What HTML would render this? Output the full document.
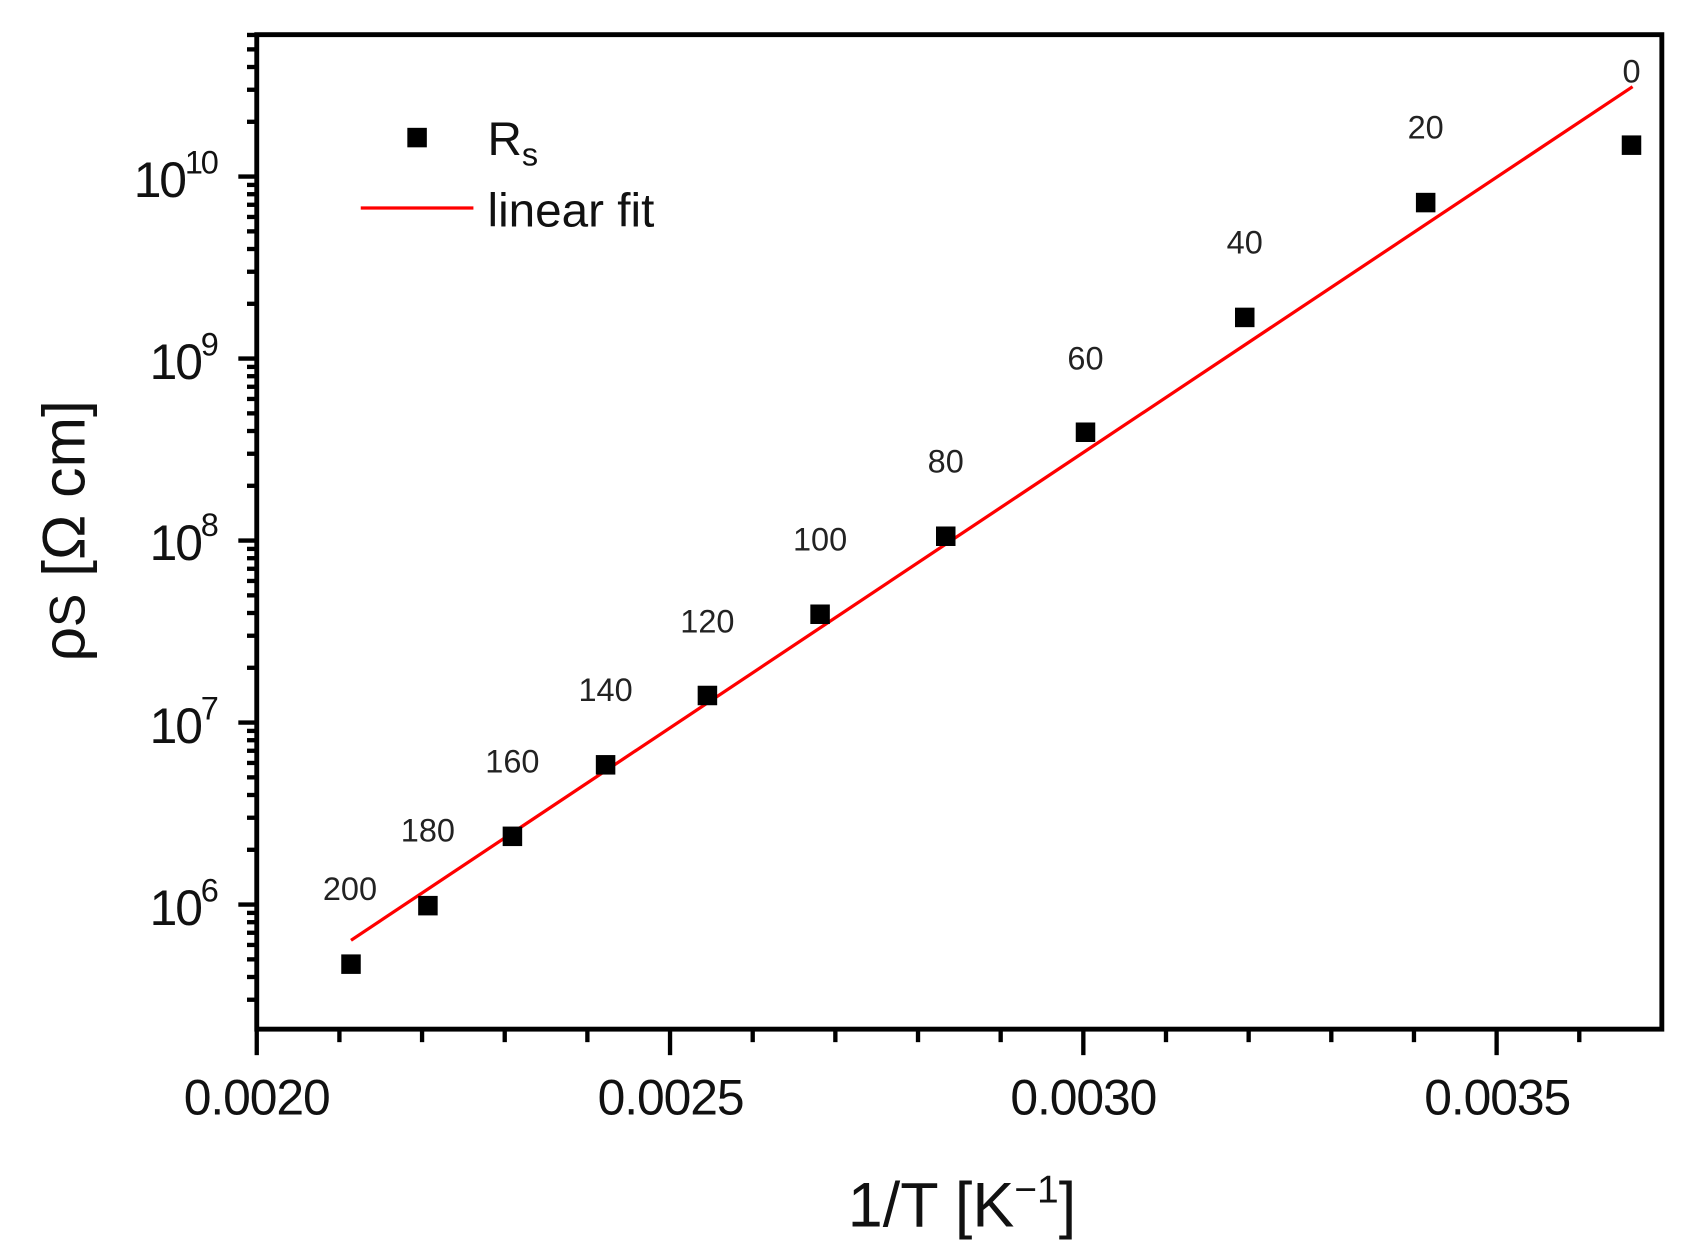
<!DOCTYPE html>
<html><head><meta charset="utf-8"><style>html,body{margin:0;padding:0;background:#fff}svg{display:block}</style></head>
<body>
<svg width="1690" height="1256" viewBox="0 0 1560 1159.4" preserveAspectRatio="none" xmlns="http://www.w3.org/2000/svg" font-family="Liberation Sans, Arial, sans-serif">
<rect width="1560" height="1160" fill="#fff"/>
<g id="yticks" stroke="#000" stroke-width="4"></g>
<g id="xticks" stroke="#000" stroke-width="4"></g>
<rect x="237" y="32" width="1297" height="918" fill="none" stroke="#000" stroke-width="4.5"/>
<g font-size="46" text-anchor="end" fill="#111" letter-spacing="-2">
<text x="200" y="182">10<tspan dy="-22" font-size="30">10</tspan></text>
<text x="200" y="350">10<tspan dy="-22" font-size="30">9</tspan></text>
<text x="200" y="517">10<tspan dy="-22" font-size="30">8</tspan></text>
<text x="200" y="686">10<tspan dy="-22" font-size="30">7</tspan></text>
<text x="200" y="854">10<tspan dy="-22" font-size="30">6</tspan></text>
</g>
<g font-size="46" text-anchor="middle" fill="#111" letter-spacing="-1">
<text x="237" y="1029">0.0020</text>
<text x="619" y="1029">0.0025</text>
<text x="1000" y="1029">0.0030</text>
<text x="1382" y="1029">0.0035</text>
</g>
<text x="888" y="1132" font-size="58" text-anchor="middle" fill="#111">1/T [K<tspan dy="-22" font-size="36">−1</tspan><tspan dy="22">]</tspan></text>
<text transform="translate(78,490) rotate(-90)" font-size="56" text-anchor="middle" fill="#111">ρ<tspan font-size="46">S</tspan> [Ω cm]</text>
<line x1="324" y1="868" x2="1507" y2="80" stroke="#f00" stroke-width="3"/>
<g fill="#000" id="pts"></g>
<g font-size="30" text-anchor="middle" fill="#222">
<text x="323" y="831">200</text><text x="395" y="777">180</text><text x="473" y="713">160</text>
<text x="559" y="647">140</text><text x="653" y="584">120</text><text x="757" y="508">100</text>
<text x="873" y="436">80</text><text x="1002" y="341">60</text><text x="1149" y="234">40</text>
<text x="1316" y="128">20</text><text x="1506" y="76">0</text>
</g>
<rect x="376" y="118" width="18" height="18" fill="#000"/>
<text x="450" y="143" font-size="44" fill="#111">R<tspan dy="10" font-size="30">s</tspan></text>
<line x1="333" y1="192" x2="437" y2="192" stroke="#f00" stroke-width="3"/>
<text x="450" y="209" font-size="44" fill="#111">linear fit</text>
<script>
var ns="http://www.w3.org/2000/svg";
function L(g,x1,y1,x2,y2){var l=document.createElementNS(ns,"line");l.setAttribute("x1",x1);l.setAttribute("y1",y1);l.setAttribute("x2",x2);l.setAttribute("y2",y2);g.appendChild(l);}
var yt=document.getElementById("yticks");
function yv(v){return 835-(v-6)*168;}
for(var d=5;d<=10;d++){for(var m=1;m<=9;m++){var v=d+Math.log10(m);var y=yv(v);if(y<32||y>950)continue;L(yt,m==1?220:228,y,237,y);}}
var xt=document.getElementById("xticks");
for(var i=0;i<=17;i++){var x=237+i*76.3;if(x>1532)break;L(xt,x,950,x,i%5==0?974:962);}
var pts=[[324,890],[395,836],[473,772],[559,706],[653,642],[757,567],[873,495],[1002,399],[1149,293],[1316,187],[1506,134]];
var pg=document.getElementById("pts");
pts.forEach(function(p){var r=document.createElementNS(ns,"rect");r.setAttribute("x",p[0]-9);r.setAttribute("y",p[1]-9);r.setAttribute("width",18);r.setAttribute("height",18);pg.appendChild(r);});
</script>
</svg>
</body></html>
